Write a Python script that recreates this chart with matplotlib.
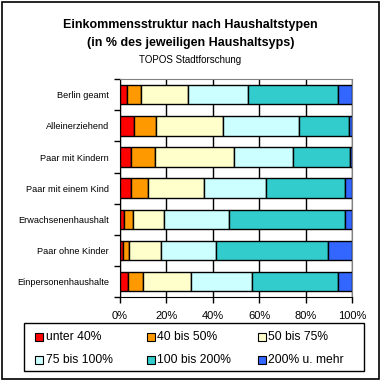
import matplotlib.pyplot as plt
import numpy as np
from matplotlib.patches import Rectangle

plt.rcParams['font.family'] = ['Liberation Sans', 'DejaVu Sans']

households = ['Berlin geamt', 'Alleinerziehend', 'Paar mit Kindern',
              'Paar mit einem Kind', 'Erwachsenenhaushalt',
              'Paar ohne Kinder', 'Einpersonenhaushalte']
classes = ['unter 40%', '40 bis 50%', '50 bis 75%',
           '75 bis 100%', '100 bis 200%', '200% u. mehr']
colors = ['#FF0000', '#FF9900', '#FFFFCC', '#CCFFFF', '#33CCCC', '#3366FF']

# share (%) per income class, one list per household type
shares = np.array([
    [2.9, 6.0, 20.3, 26.1, 38.7, 6.0],
    [5.9, 9.6, 29.0, 32.8, 21.4, 1.3],
    [4.7, 10.4, 34.1, 25.3, 24.6, 0.9],
    [4.7, 7.4, 24.2, 26.6, 34.1, 3.0],
    [1.6, 4.0, 13.2, 28.3, 49.9, 3.0],
    [1.2, 2.7, 13.8, 23.7, 48.4, 10.2],
    [3.5, 6.4, 20.7, 26.4, 37.0, 6.0],
])
xticks = [0, 20, 40, 60, 80, 100]

W = 381.0
fig = plt.figure(figsize=(3.81, 3.81), dpi=100)
ax = fig.add_axes([0.315, 0.2205, 0.609, 0.5714])

y = np.arange(len(households))
left = np.zeros(len(households))
for i in range(len(classes)):
    ax.barh(y, shares[:, i], left=left, height=0.62, color=colors[i],
            edgecolor='black', linewidth=1, zorder=3)
    left += shares[:, i]

ax.set_xlim(0, 100)
ax.set_ylim(len(households) - 0.5, -0.5)
ax.set_xticks(xticks)
ax.set_xticklabels(['{}%'.format(t) for t in xticks], fontsize=8)
ax.set_yticks(y)
ax.set_yticklabels(households, fontsize=6.6)
ax.set_yticks(np.arange(len(households) + 1) - 0.5, minor=True)
ax.tick_params(axis='y', which='major', length=0, pad=8)
ax.tick_params(axis='y', which='minor', length=4, width=1, direction='out')
ax.tick_params(axis='x', length=4, width=1, direction='out', pad=6)
ax.grid(axis='x', color='black', linewidth=1, zorder=0)
for s in ['top', 'right']:
    ax.spines[s].set_color('#808080')
for s in ['left', 'bottom']:
    ax.spines[s].set_color('black')

fig.text(0.5, 1 - 25 / W, 'Einkommensstruktur nach Haushaltstypen', ha='center',
         va='center', fontsize=9, fontweight='bold')
fig.text(0.5, 1 - 43 / W, '(in % des jeweiligen Haushaltsyps)', ha='center',
         va='center', fontsize=9, fontweight='bold')
fig.text(0.5, 1 - 60 / W, 'TOPOS Stadtforschung', ha='center', va='center',
         fontsize=7)

# legend box drawn by hand: 3 columns, 2 rows (row-wise order)
fig.patches.append(Rectangle((24 / W, 1 - 371 / W), 340 / W, 48 / W,
                             transform=fig.transFigure, fill=False,
                             edgecolor='black', linewidth=1))
for k, label in enumerate(classes):
    col, row = k % 3, k // 3
    x0 = 35 + col * 111.5
    yc = 337 + row * 23
    fig.patches.append(Rectangle((x0 / W, 1 - (yc + 4) / W), 8 / W, 8 / W,
                                 transform=fig.transFigure, facecolor=colors[k],
                                 edgecolor='black', linewidth=0.8))
    fig.text((x0 + 10.5) / W, 1 - yc / W, label, ha='left', va='center',
             fontsize=8.7)

fig.patches.append(Rectangle((0.004, 0.004), 0.99, 0.99, transform=fig.transFigure,
                             fill=False, edgecolor='black', linewidth=1.2))

fig.savefig('out.png', dpi=100)
